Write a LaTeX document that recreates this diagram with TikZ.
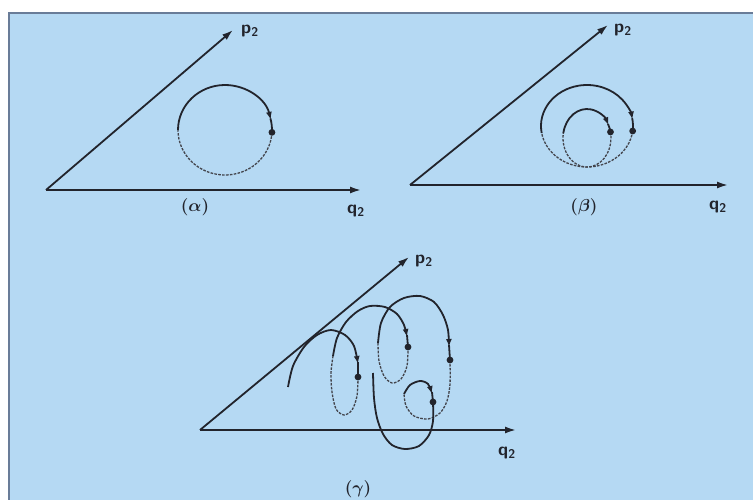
\documentclass[tikz,border=0pt]{standalone}
\usetikzlibrary{arrows.meta}
\definecolor{scanBlue}{RGB}{181,217,243}
\definecolor{scanFrame}{RGB}{105,124,152}
\definecolor{scanInk}{RGB}{34,36,44}

\begin{document}
\begin{tikzpicture}[
  x=1pt,y=-1pt,
  axis/.style={line width=1.8pt,scanInk,-{Latex[length=11pt,width=7pt]}},
  traj/.style={line width=1.8pt,scanInk},
  flow/.style={traj,-{Latex[length=8pt,width=6pt]}},
  faint/.style={line width=1.3pt,scanInk!85,dash pattern=on 2.6pt off 1.3pt},
  axlabel/.style={scanInk,font=\fontsize{18}{20}\selectfont\sffamily\bfseries},
  paneltag/.style={scanInk,font=\fontsize{18}{20}\selectfont\bfseries\boldmath}
]
  % page and frame
  \useasboundingbox (0,0) rectangle (753,500);
  \fill[white] (0,0) rectangle (753,500);
  \fill[scanBlue] (9,13) rectangle (753,500);
  \draw[scanFrame,line width=2.2pt] (9,500) -- (9,13) -- (753,13);

  % (alpha)
  \coordinate (oA) at (46,190);
  \coordinate (qA) at (361,190);
  \coordinate (pA) at (233,30);
  \draw[axis] (oA) -- (qA);
  \draw[axis] (oA) -- (pA);
  \node[axlabel] (qlabA) at (356,211) {q\textsubscript{2}};
  \node[axlabel] (plabA) at (250,31) {p\textsubscript{2}};
  \node[paneltag] (tagA) at (195,207) {$(\alpha)$};
  \coordinate (cA) at (225,130);
  \draw[flow] (cA) ++(180:47 and 45) arc[start angle=180,end angle=347,x radius=47,y radius=45];
  \draw[traj] (cA) ++(345:47 and 45) arc[start angle=345,end angle=363,x radius=47,y radius=45];
  \draw[faint] (cA) ++(3:47 and 45) arc[start angle=3,end angle=180,x radius=47,y radius=45];
  \fill[scanInk] (cA) ++(3:47 and 45) circle (3.4pt);

  % (beta)
  \coordinate (oB) at (410,185);
  \coordinate (qB) at (728,185);
  \coordinate (pB) at (608,25);
  \draw[axis] (oB) -- (qB);
  \draw[axis] (oB) -- (pB);
  \node[axlabel] (qlabB) at (718,207) {q\textsubscript{2}};
  \node[axlabel] (plabB) at (623,30) {p\textsubscript{2}};
  \node[paneltag] (tagB) at (584,207) {$(\beta)$};
  \coordinate (cB) at (587,126);
  \draw[flow] (cB) ++(170:46 and 41) arc[start angle=170,end angle=351,x radius=46,y radius=41];
  \draw[traj] (cB) ++(349:46 and 41) arc[start angle=349,end angle=367,x radius=46,y radius=41];
  \draw[faint] (cB) ++(7:46 and 41) arc[start angle=7,end angle=170,x radius=46,y radius=41];
  \fill[scanInk] (cB) ++(7:46 and 41) circle (3.4pt);
  \coordinate (cBin) at (587,138);
  \draw[flow] (cBin) ++(190:24 and 29) arc[start angle=190,end angle=334,x radius=24,y radius=29];
  \draw[traj] (cBin) ++(331:24 and 29) arc[start angle=331,end angle=348,x radius=24,y radius=29];
  \draw[faint] (cBin) ++(348:24 and 29) arc[start angle=348,end angle=550,x radius=24,y radius=29];
  \fill[scanInk] (cBin) ++(348:24 and 29) circle (3.4pt);

  % (gamma)
  \coordinate (oC) at (200,430);
  \coordinate (qC) at (516,430);
  \coordinate (pC) at (409,257);
  \draw[axis] (oC) -- (qC);
  \draw[axis] (oC) -- (pC);
  \node[axlabel] (qlabC) at (507,453) {q\textsubscript{2}};
  \node[axlabel] (plabC) at (424,261) {p\textsubscript{2}};
  \node[paneltag] (tagC) at (358,489) {$(\gamma)$};

  % first loop
  \draw[flow] plot[smooth] coordinates {(288,387) (293,366) (304,347) (317,335) (331,330) (345,335) (354,346) (358,364)};
  \draw[traj] (358,362) -- (358,377);
  \draw[faint] plot[smooth] coordinates {(358,377) (357,396) (352,410) (344,415) (336,409) (332,392) (331,373) (333,356)};
  % second loop
  \draw[flow] plot[smooth] coordinates {(333,356) (337,338) (346,322) (358,311) (370,306) (385,307) (397,314) (404,325) (407,337)};
  \draw[traj] (407,335) -- (408,347);
  \draw[faint] plot[smooth] coordinates {(408,347) (407,366) (401,379) (392,383) (384,376) (379,361) (378,343)};
  % third loop
  \draw[flow] plot[smooth] coordinates {(378,343) (381,323) (390,307) (404,298) (420,296) (434,302) (443,315) (448,330) (449,347)};
  \draw[traj] (449,345) -- (450,360);
  \draw[faint] plot[smooth] coordinates {(450,360) (450,384) (447,401) (440,413) (428,419) (414,416) (406,406) (404,394)};
  % small loop and tail
  \draw[flow] plot[smooth] coordinates {(404,394) (410,385) (420,381) (428,384) (432,394)};
  \draw[traj] (432,392) -- (433,402);
  \draw[traj] plot[smooth] coordinates {(433,402) (433,421) (429,435) (419,446) (405,449) (392,445) (383,434) (377,418) (374,398) (373,373)};
  \foreach \pt in {(358,377),(408,347),(450,360),(433,402)}
    \fill[scanInk] \pt circle (3.4pt);
\end{tikzpicture}
\end{document}
